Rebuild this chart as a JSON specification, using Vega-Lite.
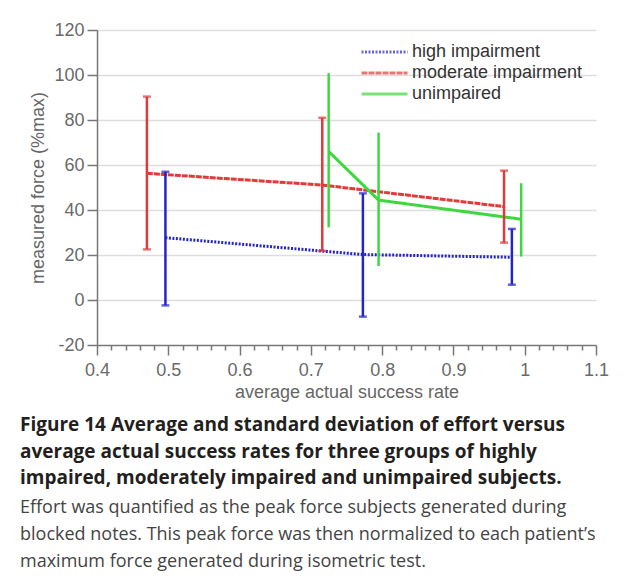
{
  "$schema": "https://vega.github.io/schema/vega-lite/v6.json",
  "width": 499,
  "height": 315,
  "autosize": {"type": "none"},
  "padding": {"left": 97, "top": 30, "right": 28, "bottom": 238},
  "background": "white",
  "data": {
    "values": [
      {"group": "high impairment", "x": 0.496, "y": 27.7, "low": -2.4, "high": 57.0},
      {"group": "high impairment", "x": 0.773, "y": 20.2, "low": -7.4, "high": 47.4},
      {"group": "high impairment", "x": 0.982, "y": 19.0, "low": 6.8, "high": 31.6},
      {"group": "moderate impairment", "x": 0.47, "y": 56.3, "low": 22.5, "high": 90.4},
      {"group": "moderate impairment", "x": 0.716, "y": 51.1, "low": 21.8, "high": 81.0},
      {"group": "moderate impairment", "x": 0.971, "y": 41.5, "low": 25.5, "high": 57.5},
      {"group": "unimpaired", "x": 0.725, "y": 66.0, "low": 32.3, "high": 100.8},
      {"group": "unimpaired", "x": 0.795, "y": 44.4, "low": 15.1, "high": 74.4},
      {"group": "unimpaired", "x": 0.995, "y": 35.9, "low": 19.3, "high": 51.9}
    ]
  },
  "title": {
    "text": [
      "Figure 14 Average and standard deviation of effort versus",
      "average actual success rates for three groups of highly",
      "impaired, moderately impaired and unimpaired subjects."
    ],
    "subtitle": [
      "Effort was quantified as the peak force subjects generated during",
      "blocked notes. This peak force was then normalized to each patient’s",
      "maximum force generated during isometric test."
    ],
    "orient": "bottom",
    "anchor": "start",
    "frame": "group",
    "dx": -77,
    "offset": 15,
    "font": "Open Sans",
    "fontSize": 19,
    "fontWeight": "bold",
    "color": "#231f20",
    "lineHeight": 26.7,
    "subtitleFont": "Open Sans",
    "subtitleFontSize": 18,
    "subtitleFontWeight": "normal",
    "subtitleColor": "#444444",
    "subtitleLineHeight": 26.7,
    "subtitlePadding": 11
  },
  "config": {
    "view": {"stroke": null},
    "axis": {
      "labelFont": "Liberation Sans",
      "labelFontSize": 18,
      "labelColor": "#6a6a6a",
      "titleFont": "Liberation Sans",
      "titleFontSize": 18,
      "titleFontWeight": "normal",
      "titleColor": "#666666",
      "domainColor": "#777777",
      "domainWidth": 1.5,
      "tickColor": "#777777",
      "tickWidth": 1.5
    }
  },
  "encoding": {
    "x": {
      "field": "x",
      "type": "quantitative",
      "scale": {"domain": [0.4, 1.1], "nice": false, "zero": false},
      "axis": {
        "title": "average actual success rate",
        "values": [0.4, 0.42, 0.44, 0.46, 0.48, 0.5, 0.52, 0.54, 0.56, 0.58, 0.6, 0.62, 0.64, 0.66, 0.68, 0.7, 0.72, 0.74, 0.76, 0.78, 0.8, 0.82, 0.84, 0.86, 0.88, 0.9, 0.92, 0.94, 0.96, 0.98, 1.0, 1.02, 1.04, 1.06, 1.08, 1.1],
        "labelExpr": "abs(datum.value*10 - round(datum.value*10)) < 0.001 ? format(datum.value, '~g') : ''",
        "tickSize": {"condition": {"test": "abs(datum.value*10 - round(datum.value*10)) < 0.001", "value": 10}, "value": 5},
        "grid": false,
        "labelPadding": 6,
        "titlePadding": 4,
        "labelFlush": false,
        "labelOverlap": false
      }
    },
    "color": {
      "field": "group",
      "type": "nominal",
      "scale": {
        "domain": ["high impairment", "moderate impairment", "unimpaired"],
        "range": ["#2424c8", "#e03a3a", "#3ed83e"]
      },
      "legend": {
        "orient": "none",
        "legendX": 263,
        "legendY": 13,
        "title": null,
        "labelFont": "Liberation Sans",
        "labelFontSize": 18,
        "labelColor": "#333333",
        "labelLimit": 400,
        "symbolType": "stroke",
        "symbolSize": 2116,
        "symbolStrokeWidth": 3,
        "labelOffset": 3,
        "rowPadding": 3,
        "clipHeight": 18
      }
    }
  },
  "layer": [
    {
      "mark": {"type": "line", "strokeWidth": 3},
      "encoding": {
        "y": {
          "field": "y",
          "type": "quantitative",
          "scale": {"domain": [-20, 120], "nice": false, "zero": false},
          "axis": {
            "title": "measured force (%max)",
            "values": [-20, -10, 0, 10, 20, 30, 40, 50, 60, 70, 80, 90, 100, 110, 120],
            "labelExpr": "datum.value % 20 === 0 ? '' + datum.value : ''",
            "tickSize": {"condition": {"test": "datum.value % 20 === 0", "value": 10}, "value": 6},
            "grid": true,
            "gridColor": "#dddddd",
            "gridWidth": 1.5,
            "gridOpacity": {"condition": {"test": "datum.value % 20 === 0 && datum.value >= 0", "value": 1}, "value": 0},
            "labelPadding": 3,
            "titlePadding": 6
          }
        },
        "strokeDash": {
          "field": "group",
          "type": "nominal",
          "scale": {
            "domain": ["high impairment", "moderate impairment", "unimpaired"],
            "range": [[2, 1.5], [6, 1], [1, 0]]
          },
          "legend": {
            "orient": "none",
            "legendX": 263,
            "legendY": 13,
            "title": null,
            "labelFont": "Liberation Sans",
            "labelFontSize": 18,
            "labelColor": "#333333",
            "labelLimit": 400,
            "symbolType": "stroke",
            "symbolSize": 2116,
            "symbolStrokeWidth": 3,
            "labelOffset": 3,
            "rowPadding": 3,
            "clipHeight": 18
          }
        }
      }
    },
    {
      "mark": {"type": "rule", "strokeWidth": 2.5},
      "encoding": {
        "y": {"field": "low", "type": "quantitative"},
        "y2": {"field": "high"}
      }
    },
    {
      "transform": [{"filter": "datum.group !== 'unimpaired'"}],
      "mark": {"type": "tick", "orient": "horizontal", "size": 8, "thickness": 2.5},
      "encoding": {
        "y": {"field": "low", "type": "quantitative"}
      }
    },
    {
      "transform": [{"filter": "datum.group !== 'unimpaired'"}],
      "mark": {"type": "tick", "orient": "horizontal", "size": 8, "thickness": 2.5},
      "encoding": {
        "y": {"field": "high", "type": "quantitative"}
      }
    }
  ]
}
